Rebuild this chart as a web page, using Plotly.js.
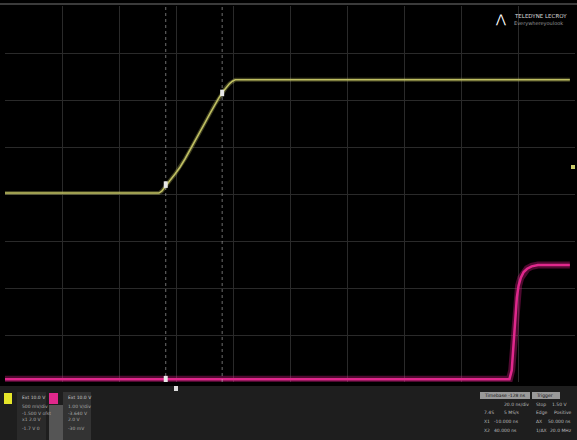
<!DOCTYPE html>
<html>
<head>
<meta charset="utf-8">
<script src="https://cdn.plot.ly/plotly-3.0.1.min.js"></script>
<style>html,body{margin:0;padding:0;background:#000;}#chart{width:577px;height:440px;}</style>
</head>
<body>
<div id="chart"></div>
<script>
// Trace data in screen divisions (x: 0..10 div, y: -4..4 div)
const ch1X = [0, 2.70, 2.75, 2.80, 2.89, 2.98, 3.07, 3.16, 3.25, 3.34, 3.42, 3.51, 3.60, 3.68, 3.75, 3.82, 3.88, 3.94, 3.99, 4.04, 9.91];
const ch1Y = [0.02, 0.02, 0.06, 0.13, 0.28, 0.42, 0.57, 0.75, 0.94, 1.13, 1.32, 1.52, 1.72, 1.90, 2.04, 2.17, 2.27, 2.35, 2.40, 2.43, 2.43];
const ch2X = [0, 8.85, 8.89, 8.92, 8.95, 8.98, 9.01, 9.05, 9.10, 9.16, 9.24, 9.35, 9.91];
const ch2Y = [-3.94, -3.94, -3.75, -3.20, -2.62, -2.20, -1.95, -1.78, -1.66, -1.59, -1.54, -1.51, -1.51];
const cursorX = [2.82, 3.81];
const xTicks = [0, 1, 2, 3, 4, 5, 6, 7, 8, 9, 10];
const yTicks = [-4, -3, -2, -1, 0, 1, 2, 3, 4];

const W = 577, H = 440, L = 5, R = 2, T = 6, B = 58;
const pw = W - L - R, ph = H - T - B;
const px = x => (x - L) / pw;
const py = y => (H - B - y) / ph;

const traces = [
  {x: ch2X, y: ch2Y, mode: 'lines', line: {color: 'rgba(230,30,140,0.35)', width: 7}, hoverinfo: 'skip'},
  {x: ch2X, y: ch2Y, mode: 'lines', line: {color: '#e0288c', width: 2.5}, name: 'C2'},
  {x: ch1X, y: ch1Y, mode: 'lines', line: {color: 'rgba(200,200,100,0.3)', width: 4}, hoverinfo: 'skip'},
  {x: ch1X, y: ch1Y, mode: 'lines', line: {color: '#bfbf62', width: 1.6}, name: 'C1'}
];

const shapes = [
  {type: 'rect', xref: 'paper', yref: 'paper', x0: px(0), x1: px(577), y0: py(440), y1: py(386), fillcolor: '#1e1e1e', line: {width: 0}, layer: 'below'},
  {type: 'line', xref: 'paper', yref: 'paper', x0: px(0), x1: px(577), y0: py(4), y1: py(4), line: {color: '#777', width: 1}},
  {type: 'rect', xref: 'paper', yref: 'paper', x0: px(4), x1: px(12), y0: py(404), y1: py(393), fillcolor: '#e6e62a', line: {width: 0}},
  {type: 'rect', xref: 'paper', yref: 'paper', x0: px(17), x1: px(46), y0: py(440), y1: py(392), fillcolor: '#2a2a2a', line: {width: 0}},
  {type: 'rect', xref: 'paper', yref: 'paper', x0: px(49), x1: px(58), y0: py(404), y1: py(393), fillcolor: '#e0288c', line: {width: 0}},
  {type: 'rect', xref: 'paper', yref: 'paper', x0: px(49), x1: px(63), y0: py(440), y1: py(405), fillcolor: '#555', line: {width: 0}},
  {type: 'rect', xref: 'paper', yref: 'paper', x0: px(63), x1: px(91), y0: py(440), y1: py(392), fillcolor: '#333', line: {width: 0}},
  {type: 'rect', xref: 'paper', yref: 'paper', x0: px(480), x1: px(530), y0: py(399), y1: py(392), fillcolor: '#9a9a9a', line: {width: 0}},
  {type: 'rect', xref: 'paper', yref: 'paper', x0: px(532), x1: px(560), y0: py(399), y1: py(392), fillcolor: '#9a9a9a', line: {width: 0}},
  {type: 'rect', xref: 'paper', yref: 'paper', x0: px(174), x1: px(178), y0: py(391), y1: py(386), fillcolor: '#ddd', line: {width: 0}},
  {type: 'rect', xref: 'paper', yref: 'paper', x0: px(571), x1: px(575), y0: py(169), y1: py(165), fillcolor: '#c9c96a', line: {width: 0}}
];
cursorX.forEach(c => shapes.push({type: 'line', xref: 'x', yref: 'y', x0: c, x1: c, y0: -4, y1: 4, line: {color: 'rgba(200,200,200,0.55)', width: 1, dash: 'dot'}}));
const crossPts = [[cursorX[0], 0.2], [cursorX[1], 2.15], [cursorX[0], -3.94]];
crossPts.forEach(p => shapes.push({type: 'rect', xref: 'x', yref: 'y', x0: p[0] - 0.035, x1: p[0] + 0.035, y0: p[1] - 0.07, y1: p[1] + 0.07, fillcolor: '#e8e8e8', line: {width: 0}}));

const f = (s, c) => ({family: 'DejaVu Sans', size: s, color: c || '#bbb'});
const ann = (x, y, t, s, c, xa) => ({xref: 'paper', yref: 'paper', x: px(x), y: py(y), text: t, showarrow: false, font: f(s, c), xanchor: xa || 'left', yanchor: 'middle'});
const annotations = [
  ann(500, 19, '⋀', 12, '#fff', 'center'),
  ann(512, 16, 'TELEDYNE LECROY', 5.5, '#ddd'),
  ann(512, 24, 'Everywhereyoulook', 5, '#999'),
  ann(20, 397, 'Ext 10.0 V', 4.5, '#ccc'),
  ann(20, 406, '500 mV/div', 4.5, '#aaa'),
  ann(20, 413, '-1.500 V ofst', 4.5, '#aaa'),
  ann(20, 420, 'x1 2.0 V', 4.5, '#aaa'),
  ann(20, 428, '-1.7 V 0', 4.5, '#aaa'),
  ann(66, 397, 'Ext 10.0 V', 4.5, '#ccc'),
  ann(66, 406, '1.00 V/div', 4.5, '#aaa'),
  ann(66, 413, '-3.640 V', 4.5, '#aaa'),
  ann(66, 420, '2.0 V', 4.5, '#aaa'),
  ann(66, 428, '-30 mV', 4.5, '#aaa'),
  ann(482, 395.5, 'Timebase -128 ns', 4.5, '#111'),
  ann(534, 395.5, 'Trigger', 4.5, '#111'),
  ann(502, 404, '20.0 ns/div', 4.5, '#bbb'),
  ann(534, 404, 'Stop', 4.5, '#bbb'),
  ann(550, 404, '1.50 V', 4.5, '#bbb'),
  ann(482, 412, '7.4S', 4.5, '#bbb'),
  ann(502, 412, '5 MS/s', 4.5, '#bbb'),
  ann(534, 412, 'Edge', 4.5, '#bbb'),
  ann(552, 412, 'Positive', 4.5, '#bbb'),
  ann(482, 421, 'X1', 4.5, '#bbb'),
  ann(492, 421, '-10.000 ns', 4.5, '#bbb'),
  ann(534, 421, 'ΔX', 4.5, '#bbb'),
  ann(546, 421, '50.000 ns', 4.5, '#bbb'),
  ann(482, 430, 'X2', 4.5, '#bbb'),
  ann(492, 430, '40.000 ns', 4.5, '#bbb'),
  ann(534, 430, '1/ΔX', 4.5, '#bbb'),
  ann(548, 430, '20.0 MHz', 4.5, '#bbb')
];

const layout = {
  width: W, height: H,
  margin: {l: L, r: R, t: T, b: B},
  paper_bgcolor: '#000', plot_bgcolor: '#000',
  showlegend: false,
  xaxis: {range: [0, 10], tickvals: xTicks, showticklabels: false, ticks: '', showgrid: true, gridcolor: '#2a2a2a', gridwidth: 1, zeroline: false, showline: false, fixedrange: true},
  yaxis: {range: [-4, 4], tickvals: yTicks, showticklabels: false, ticks: '', showgrid: true, gridcolor: '#2a2a2a', gridwidth: 1, zeroline: false, showline: false, fixedrange: true},
  shapes: shapes,
  annotations: annotations
};
Plotly.newPlot('chart', traces, layout, {displayModeBar: false, staticPlot: true});
</script>
</body>
</html>
